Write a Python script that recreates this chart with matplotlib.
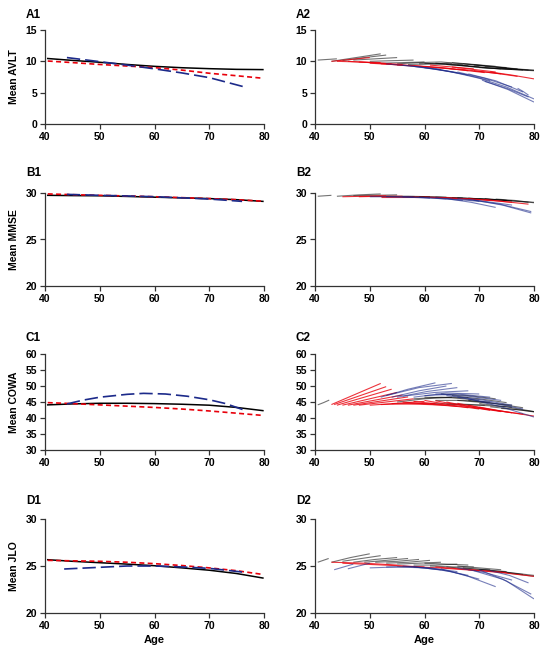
import matplotlib
matplotlib.use('Agg')
import matplotlib.pyplot as plt

plt.rcParams['font.family'] = ['Liberation Sans', 'DejaVu Sans']
plt.rcParams['font.weight'] = 'bold'

# ---------------- left column: group mean curves ----------------
ages_mean = [40.5, 45, 50, 55, 60, 65, 70, 75, 79.8]

avlt_black = [10.45, 10.15, 9.85, 9.5, 9.2, 8.98, 8.83, 8.72, 8.68]
avlt_red = [10.05, 9.8, 9.5, 9.25, 9.0, 8.6, 8.1, 7.7, 7.3]
avlt_blue_ages = [44, 50, 55, 60, 65, 70, 76.5]
avlt_blue = [10.6, 9.95, 9.4, 8.8, 8.15, 7.4, 5.9]

mmse_black = [29.75, 29.72, 29.7, 29.63, 29.55, 29.48, 29.4, 29.28, 29.1]
mmse_red = [29.9, 29.82, 29.75, 29.68, 29.6, 29.5, 29.4, 29.28, 29.12]
mmse_blue_ages = [44, 50, 55, 60, 65, 70, 76]
mmse_blue = [29.85, 29.75, 29.68, 29.6, 29.48, 29.35, 29.1]

cowa_black = [44.1, 44.4, 44.6, 44.6, 44.5, 44.3, 44.0, 43.3, 42.3]
cowa_red = [44.8, 44.5, 44.1, 43.7, 43.3, 42.8, 42.2, 41.5, 40.8]
cowa_blue_ages = [44, 47, 50, 55, 58, 62, 66, 70, 73, 76.5]
cowa_blue = [44.4, 45.6, 46.5, 47.4, 47.7, 47.5, 46.8, 45.7, 44.5, 42.4]

jlo_black = [25.67, 25.5, 25.35, 25.2, 25.03, 24.8, 24.55, 24.2, 23.72]
jlo_red = [25.6, 25.55, 25.5, 25.4, 25.25, 25.05, 24.8, 24.5, 24.1]
jlo_blue_ages = [43.5, 50, 55, 60, 65, 70, 76]
jlo_blue = [24.68, 24.86, 25.0, 25.0, 24.9, 24.75, 24.36]

# ---------------- right column: individual trajectories ----------------
# each row: start age, end age, value at start, value at middle, value at end
avlt_traj_black = [
    (40.5, 44, 10.2, 10.3, 10.4), (43, 52, 10.0, 10.6, 11.2), (45, 53, 10.1, 10.6, 11.0),
    (47, 55, 10.2, 10.4, 10.6), (50, 58, 10.0, 10.1, 10.2), (52, 60, 9.7, 9.8, 9.9),
    (55, 63, 9.6, 9.8, 9.9), (57, 65, 9.5, 9.6, 9.7), (59, 67, 9.6, 9.6, 9.5),
    (60, 68, 9.7, 9.5, 9.3), (62, 70, 9.7, 9.4, 9.1), (63, 71, 9.9, 9.6, 9.3),
    (64, 72, 9.5, 9.2, 8.9), (66, 74, 9.4, 9.1, 8.8), (67, 75, 9.6, 9.3, 9.0),
    (68, 76, 9.2, 8.9, 8.7), (70, 78, 9.0, 8.8, 8.6), (72, 80, 8.9, 8.7, 8.5),
    (73, 80, 9.1, 8.8, 8.6), (65, 73, 9.8, 9.5, 9.2), (69, 77, 9.4, 9.1, 8.8),
    (71, 79, 9.2, 8.9, 8.6), (74, 80, 8.9, 8.7, 8.55),
]
avlt_traj_red = [
    (43, 50, 10.0, 10.3, 10.6), (44, 52, 10.0, 9.9, 9.8), (46, 54, 10.0, 9.8, 9.6),
    (48, 56, 9.9, 9.7, 9.5), (50, 58, 9.7, 9.5, 9.3), (52, 60, 9.6, 9.4, 9.2),
    (55, 63, 9.4, 9.2, 9.0), (58, 66, 9.3, 9.0, 8.7), (60, 68, 9.2, 8.9, 8.5),
    (63, 71, 9.0, 8.6, 8.2), (66, 74, 8.8, 8.4, 8.0), (69, 77, 8.5, 8.1, 7.6),
    (72, 80, 8.3, 7.8, 7.2), (61, 69, 9.4, 9.1, 8.8), (65, 73, 9.1, 8.7, 8.3),
]
avlt_traj_blue = [
    (53, 63, 9.6, 9.2, 8.7), (56, 66, 9.4, 8.9, 8.2), (58, 68, 9.2, 8.6, 7.8),
    (60, 70, 9.0, 8.3, 7.3), (62, 72, 8.8, 8.0, 6.9), (66, 76, 8.3, 7.3, 5.9),
    (68, 78, 8.0, 6.9, 5.1), (70, 80, 7.3, 5.9, 4.0), (70.5, 80, 7.0, 5.5, 3.5),
    (71, 79, 6.8, 5.7, 4.3), (77, 79, 5.7, 5.2, 4.6),
]

mmse_traj_black = [
    (40.5, 43, 29.65, 29.7, 29.75), (44, 52, 29.65, 29.8, 29.9), (47, 55, 29.7, 29.75, 29.8),
    (50, 58, 29.7, 29.7, 29.7), (53, 61, 29.65, 29.65, 29.6), (56, 64, 29.6, 29.6, 29.55),
    (59, 67, 29.6, 29.55, 29.45), (62, 70, 29.55, 29.45, 29.35), (65, 73, 29.5, 29.4, 29.25),
    (68, 76, 29.45, 29.3, 29.15), (71, 79, 29.4, 29.2, 29.0), (73, 80, 29.35, 29.2, 28.95),
    (66, 75, 29.5, 29.35, 29.2), (70, 80, 29.4, 29.2, 29.0),
]
mmse_traj_red = [
    (45, 53, 29.6, 29.65, 29.7), (48, 56, 29.6, 29.65, 29.65), (52, 60, 29.6, 29.6, 29.6),
    (56, 64, 29.6, 29.55, 29.5), (60, 68, 29.55, 29.45, 29.35), (64, 72, 29.5, 29.35, 29.2),
    (68, 76, 29.4, 29.2, 29.0), (71, 79, 29.3, 29.05, 28.8),
]
mmse_traj_blue = [
    (50, 58, 29.6, 29.6, 29.55), (53, 61, 29.6, 29.55, 29.45), (56, 64, 29.6, 29.5, 29.35),
    (59, 67, 29.55, 29.4, 29.2), (62, 70, 29.5, 29.3, 29.1), (64, 73, 29.4, 29.0, 28.45),
    (66, 76, 29.4, 29.1, 28.7), (68, 79.5, 29.3, 28.8, 28.0), (69, 79.5, 29.25, 28.7, 27.85),
]

cowa_traj_black = [
    (40.5, 42.6, 44.1, 44.8, 45.6), (55, 65, 45.0, 46.0, 46.5), (58, 68, 46.0, 46.5, 46.3),
    (60, 70, 46.5, 46.3, 45.6), (61, 71, 44.5, 44.4, 44.0), (62, 72, 45.5, 45.5, 45.0),
    (63, 73, 47.5, 47.0, 46.0), (64, 76, 44.3, 44.0, 43.4), (65, 75, 47.0, 46.0, 44.8),
    (66, 76, 45.5, 44.8, 44.0), (68, 78, 45.5, 44.5, 43.2), (70, 80, 44.5, 43.5, 42.0),
    (72, 80, 43.5, 42.8, 42.0), (74, 80, 43.0, 42.6, 41.9),
]
cowa_traj_red = [
    (43, 52, 44.2, 47.5, 50.8), (43.5, 53, 44.2, 47.0, 49.8), (44, 54, 44.0, 46.5, 49.0),
    (45, 55, 44.0, 46.0, 48.0), (46, 56, 44.0, 45.6, 47.2), (47, 57, 44.0, 45.3, 46.6),
    (48, 58, 44.0, 45.0, 46.0), (50, 60, 44.0, 44.6, 45.2), (52, 62, 44.2, 44.5, 44.6),
    (54, 64, 44.5, 44.3, 44.0), (56, 66, 45.0, 44.3, 43.6), (58, 68, 45.2, 44.2, 43.2),
    (60, 70, 45.5, 44.0, 42.8), (62, 72, 45.4, 43.8, 42.4), (64, 74, 45.0, 43.3, 42.0),
    (66, 76, 44.6, 42.9, 41.6), (68, 78, 44.0, 42.4, 41.2), (70, 80, 43.4, 41.9, 40.6),
]
cowa_traj_blue = [
    (52, 62, 46.5, 49.0, 51.0), (53, 65, 47.0, 49.5, 50.8), (54, 64, 46.5, 48.5, 50.0),
    (55, 66, 46.5, 48.3, 49.5), (56, 68, 46.8, 48.0, 48.5), (58, 70, 46.5, 47.8, 47.5),
    (60, 72, 47.0, 47.5, 46.5), (62, 74, 47.5, 46.8, 45.5), (64, 76, 47.0, 45.8, 44.0),
    (66, 78, 46.5, 44.8, 42.8), (68, 80, 46.0, 43.5, 40.3),
]

jlo_traj_black = [
    (40.5, 42.5, 25.4, 25.6, 25.8), (43, 50, 25.4, 25.9, 26.3), (45, 52, 25.5, 25.8, 26.1),
    (47, 55, 25.4, 25.7, 25.9), (49, 57, 25.4, 25.6, 25.8), (51, 59, 25.4, 25.5, 25.7),
    (53, 61, 25.3, 25.4, 25.6), (55, 63, 25.2, 25.3, 25.4), (58, 66, 25.1, 25.1, 25.2),
    (61, 69, 25.0, 24.9, 24.9), (64, 72, 24.9, 24.7, 24.6), (67, 75, 24.8, 24.6, 24.4),
    (70, 78, 24.6, 24.4, 24.1), (72, 80, 24.5, 24.2, 23.9), (74, 80, 24.4, 24.2, 24.0),
    (60, 68, 25.3, 25.2, 25.1), (66, 74, 25.0, 24.8, 24.6),
]
jlo_traj_red = [
    (43, 55, 25.4, 25.3, 25.1), (45, 60, 25.3, 25.1, 24.9), (55, 70, 25.0, 24.8, 24.5),
    (62, 75, 24.9, 24.6, 24.3), (68, 80, 24.6, 24.3, 23.9),
]
jlo_traj_blue = [
    (43.5, 47, 24.6, 24.9, 25.2), (46, 50, 24.7, 25.0, 25.3), (50, 60, 24.8, 24.9, 24.8),
    (53, 63, 24.9, 24.9, 24.6), (56, 66, 25.0, 24.8, 24.4), (58, 68, 24.9, 24.6, 24.0),
    (60, 70, 24.8, 24.4, 23.6), (63, 73, 24.7, 23.9, 22.8), (66, 76, 24.8, 24.3, 23.5),
    (69, 79.5, 24.5, 23.6, 22.0), (70, 80, 24.6, 23.4, 21.5), (72, 79, 24.5, 24.0, 23.2),
]

ylabels = ['Mean AVLT', 'Mean MMSE', 'Mean COWA', 'Mean JLO']
ylims = [(0, 15), (20, 30), (30, 60), (20, 30)]
yticks = [[0, 5, 10, 15], [20, 25, 30], [30, 35, 40, 45, 50, 55, 60], [20, 25, 30]]
xticks = [40, 50, 60, 70, 80]
row_letters = ['A', 'B', 'C', 'D']

BLACK = '#000000'
RED = '#e8000b'
BLUE = '#1c2a8a'

means = [
    (avlt_black, avlt_red, avlt_blue_ages, avlt_blue),
    (mmse_black, mmse_red, mmse_blue_ages, mmse_blue),
    (cowa_black, cowa_red, cowa_blue_ages, cowa_blue),
    (jlo_black, jlo_red, jlo_blue_ages, jlo_blue),
]
trajs = [
    (avlt_traj_black, avlt_traj_red, avlt_traj_blue),
    (mmse_traj_black, mmse_traj_red, mmse_traj_blue),
    (cowa_traj_black, cowa_traj_red, cowa_traj_blue),
    (jlo_traj_black, jlo_traj_red, jlo_traj_blue),
]

fig = plt.figure(figsize=(5.5, 6.57), dpi=100)

# axes boxes in pixels (left, top, right, bottom)
col_x = [(45, 264), (315, 534)]
row_y = [(30, 124), (193, 286), (354, 450), (519, 613)]
label_y = [15, 173, 338, 501]
W, H = 550, 657


def style_axes(ax, r):
    ax.set_xlim(40, 80)
    ax.set_ylim(*ylims[r])
    ax.set_xticks(xticks)
    ax.set_yticks(yticks[r])
    for s in ['top', 'right']:
        ax.spines[s].set_visible(False)
    for s in ['left', 'bottom']:
        ax.spines[s].set_linewidth(0.9)
        ax.spines[s].set_color('#333333')
    ax.tick_params(direction='out', length=3.5, width=0.9, color='#333333',
                   labelsize=7.5, pad=2)
    for lab in ax.get_xticklabels() + ax.get_yticklabels():
        lab.set_fontweight('bold')


def draw_traj(ax, rows, color, alpha, lw):
    for a0, a1, v0, vm, v1 in rows:
        ax.plot([a0, (a0 + a1) / 2, a1], [v0, vm, v1], color=color,
                alpha=alpha, lw=lw, solid_capstyle='butt')


for r in range(4):
    top, bot = row_y[r]
    for c in range(2):
        x0, x1 = col_x[c]
        ax = fig.add_axes([x0 / W, 1 - bot / H, (x1 - x0) / W, (bot - top) / H])
        style_axes(ax, r)
        if c == 0:
            black, red, bages, blue = means[r]
            ax.plot(ages_mean, black, color=BLACK, lw=1.1)
            ax.plot(ages_mean, red, color=RED, lw=1.2, dashes=(3, 2))
            ax.plot(bages, blue, color=BLUE, lw=1.2, dashes=(8, 3))
            ax.set_ylabel(ylabels[r], fontsize=7.5, fontweight='bold', labelpad=5)
        else:
            tb, tr, tbl = trajs[r]
            draw_traj(ax, tb, BLACK, 0.55, 0.8)
            draw_traj(ax, tr, RED, 0.8, 0.8)
            draw_traj(ax, tbl, BLUE, 0.6, 0.8)
        if r == 3:
            ax.set_xlabel('Age', fontsize=8, fontweight='bold', labelpad=3)
        fig.text((x0 - 19) / W, 1 - label_y[r] / H, f'{row_letters[r]}{c + 1}',
                 fontsize=8.5, fontweight='bold', va='center', ha='left')

fig.savefig('out.png', dpi=100)
